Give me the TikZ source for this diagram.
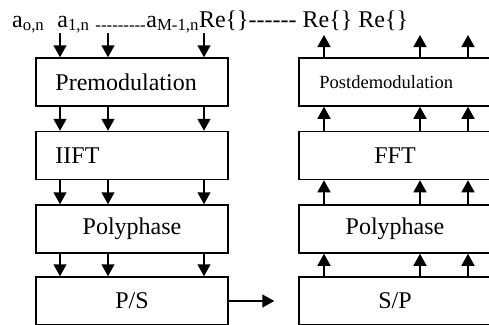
\documentclass[tikz,border=0pt]{standalone}
\usepackage{fontspec}
\setmainfont{Liberation Serif}
\usetikzlibrary{arrows.meta, positioning}

\tikzset{
  blk/.style={draw, line width=1.5pt, minimum width=192pt, minimum height=48pt, inner sep=0pt,
    font=\fontsize{24}{28}\selectfont},
  sig/.style={line width=1.5pt, -{Triangle[length=12pt,width=13pt]}},
  txt/.style={inner sep=0pt, font=\fontsize{24}{28}\selectfont},
}

\begin{document}
\begin{tikzpicture}[x=1pt, y=-1pt]
\useasboundingbox (0,0) rectangle (489,324);
\clip (0,0) rectangle (489,324);

% transmitter chain
\node[blk] (premod) at (132,82) {};
\node[blk, below=24pt of premod] (ifft) {};
\node[blk, below=24pt of ifft] (polyL) {Polyphase};
\node[blk, below=22.5pt of polyL] (ps) {P/S};
\node[txt, anchor=west] (premodtxt) at ([xshift=20pt]premod.west) {Premodulation};
\node[txt, anchor=west] (iffttxt) at ([xshift=20pt]ifft.west) {IIFT};

% receiver chain
\node[blk] (postdemod) at (395,82) {};
\node[blk, below=24pt of postdemod] (fft) {FFT};
\node[blk, below=24pt of fft] (polyR) {Polyphase};
\node[blk, below=22.5pt of polyR] (sp) {S/P};
\node[txt, anchor=west, font=\fontsize{18.5}{22}\selectfont] (postdemodtxt) at ([xshift=21pt]postdemod.west) {Postdemodulation};

% symbols on top
\node[txt, anchor=base west] (syms) at (12,27)
  {a\textsubscript{o,n}\hspace{13pt}a\textsubscript{1,n} \textsubscript{-{}-{}-{}-{}-{}-{}-{}-{}-}a\textsubscript{M-1,n}Re\{\}-{}-{}-{}-{}-{}- Re\{\} Re\{\}};

\foreach \x in {60,108,204} {
  \coordinate (in\x) at (\x,33);
  \draw[sig] (in\x) -- (in\x |- premod.north);
  \draw[sig] (in\x |- premod.south) -- (in\x |- ifft.north);
  \draw[sig] (in\x |- ifft.south) -- (in\x |- polyL.north);
  \draw[sig] (in\x |- polyL.south) -- (in\x |- ps.north);
}

\foreach \x in {324,420,468} {
  \coordinate (out\x) at (\x,35);
  \draw[sig] (out\x |- sp.north) -- (out\x |- polyR.south);
  \draw[sig] (out\x |- polyR.north) -- (out\x |- fft.south);
  \draw[sig] (out\x |- fft.north) -- (out\x |- postdemod.south);
  \draw[sig] (out\x |- postdemod.north) -- (out\x);
}

\draw[sig] (ps.east) -- ([xshift=-24pt]sp.west);
\end{tikzpicture}
\end{document}
